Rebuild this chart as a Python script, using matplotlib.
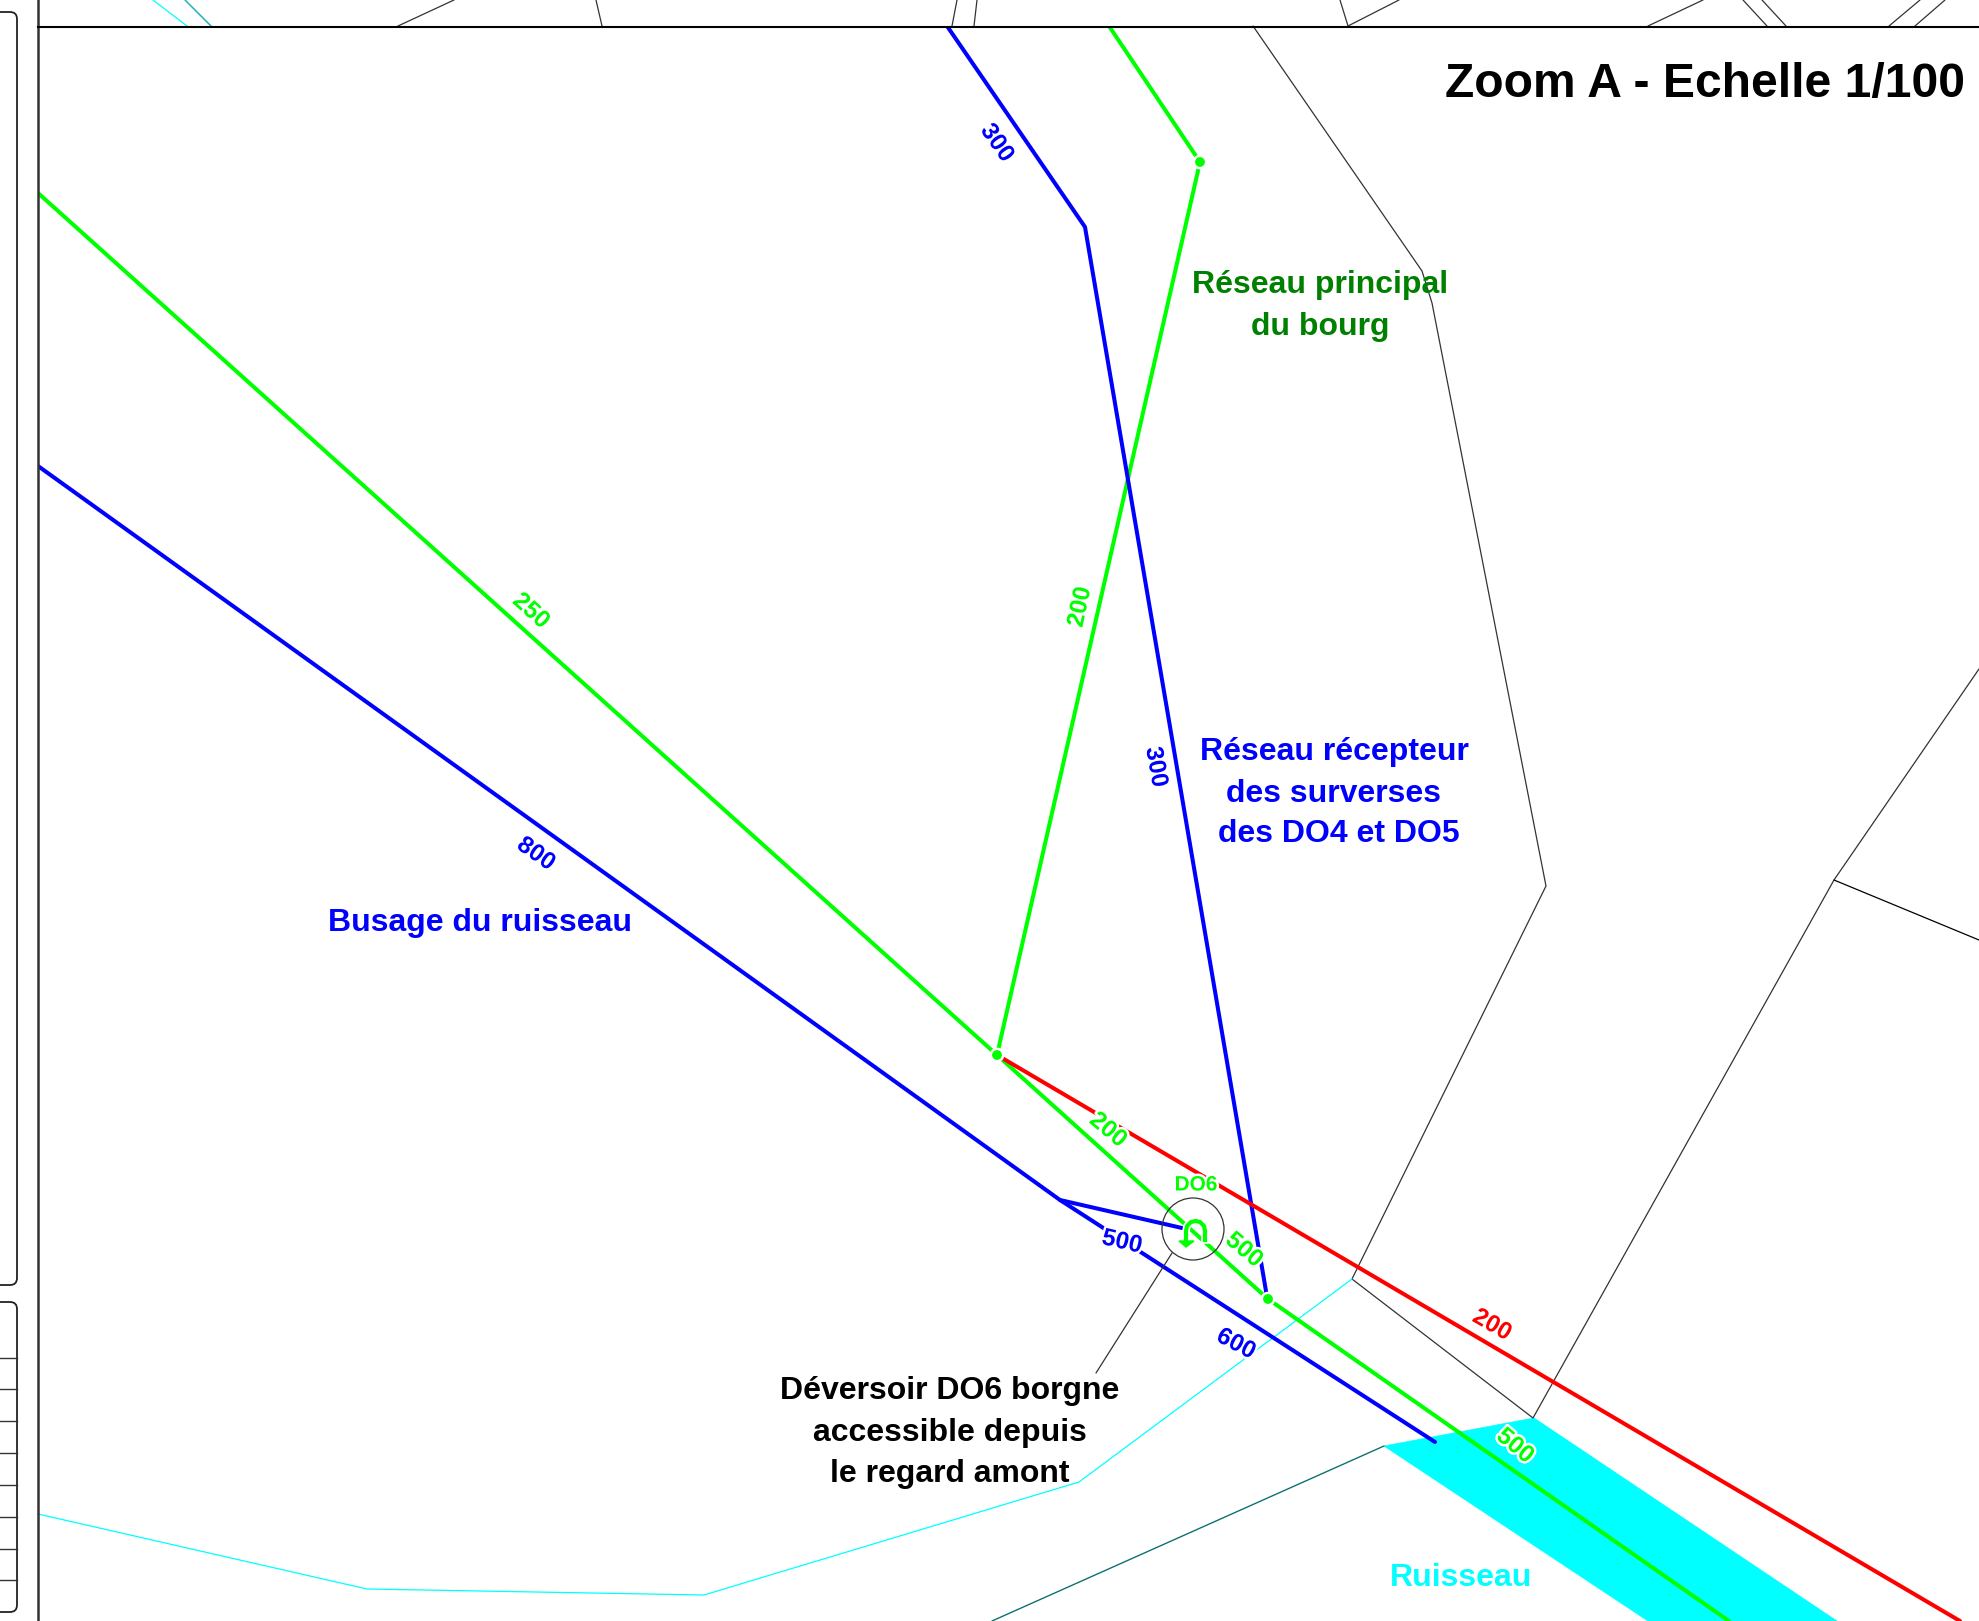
import matplotlib
matplotlib.use("Agg")
import matplotlib.pyplot as plt
import matplotlib.patheffects as pe
from matplotlib.patches import Polygon, Circle, FancyBboxPatch, Rectangle

plt.rcParams['font.family'] = ['Liberation Sans', 'DejaVu Sans']

BLUE = '#0000ff'
GREEN = '#00ff00'
RED = '#ff0000'
CYAN = '#00ffff'
DARKGREEN = '#008000'
GREY = '#333333'

#Pipes, map coordinates (x, y going down)
blue_300 = [(947,26),(1085,227),(1267,1297)]
blue_800 = [(38,466),(1060,1200),(1435,1442)]
blue_branch = [(1060,1200),(1182,1228)]
green_200 = [(1109,26),(1200,162),(997,1055)]
green_250 = [(38,193),(997,1055),(1268,1299),(1729,1621)]
red_200 = [(997,1055),(1960,1621)]

#Parcels
parcel_a = [(1253,26),(1422,271),(1432,303),(1546,886),(1352,1279),(1533,1418),(1834,880),(1979,669)]
parcel_b = [(1834,880),(1979,940)]
top_lines = [[(398,26),(454,0)],[(596,0),(602,26)],[(957,0),(952,26)],[(977,0),(974,26)],
             [(1340,0),(1348,26)],[(1399,0),(1348,26)],[(1703,0),(1648,26)],[(1743,0),(1767,26)],
             [(1762,0),(1786,26)],[(1920,0),(1889,26)],[(1945,0),(1915,26)]]

#Stream
stream_bank = [(1352,1279),(1079,1482),(704,1595),(367,1589),(38,1514)]
stream_top = [[(153,0),(187,26)]]
stream_top_teal = [[(185,0),(211,26)]]
stream_edge = [(1384,1446),(992,1621)]
stream_area = [(1384,1446),(1534,1418),(1837,1621),(1648,1621)]

#Nodes
green_dots = [(1200,162),(997,1055),(1268,1299)]
do6_centre = (1193,1229)
do6_radius = 31
do6_leader = [(1172,1253),(1096,1373)]
do6_uturn = [(1205,1240),(1205,1231),(1204,1226),(1200,1222),(1195.5,1221),(1191,1222),(1187,1226),(1186,1231),(1186,1240)]
do6_head = [(1179,1241),(1194,1241),(1186,1247)]

#Left panel
row_lines = [1358,1389,1421,1453,1485,1517,1549,1580]

#Labels: text, x, y, rotation, colour
pipe_labels = [('300',997,143,-55,BLUE),('300',1156,767,-80,BLUE),('800',536,854,-35,BLUE),
               ('500',1122,1242,-13,BLUE),('600',1236,1344,-28,BLUE),
               ('250',531,611,-42,GREEN),('200',1080,607,78,GREEN),('200',1108,1130,-40,GREEN),
               ('500',1244,1250,-40,GREEN),('500',1515,1446,-40,GREEN),('200',1492,1325,-30,RED)]
notes = [('Réseau principal',1320,285,DARKGREEN),('du bourg',1320,327,DARKGREEN),
         ('Réseau récepteur',1334,752,BLUE),('des surverses',1334,794,BLUE),('des DO4 et DO5',1339,834,BLUE),
         ('Busage du ruisseau',480,923,BLUE),
         ('Déversoir DO6 borgne',950,1391,'black'),('accessible depuis',950,1433,'black'),('le regard amont',950,1474,'black'),
         ('Ruisseau',1461,1578,CYAN)]


def draw(ax, pts, color, lw, z=2, clip=None):
    xs = [p[0] for p in pts]
    ys = [p[1] for p in pts]
    line, = ax.plot(xs, ys, color=color, lw=lw, zorder=z, solid_capstyle='round', solid_joinstyle='miter')
    if clip is not None:
        line.set_clip_path(clip)


fig = plt.figure(figsize=(19.79,16.21), dpi=100)
ax = fig.add_axes([0,0,1,1])
ax.set_xlim(0,1979)
ax.set_ylim(1621,0)
ax.axis('off')

#Pipes stop at the frame
inside = Rectangle((38,27), 1941, 1594, transform=ax.transData)

ax.add_patch(Polygon(stream_area, closed=True, facecolor=CYAN, edgecolor=CYAN, lw=0.5, zorder=1))

draw(ax, parcel_a, GREY, 0.9)
draw(ax, parcel_b, 'black', 0.9)
for l in top_lines:
    draw(ax, l, GREY, 0.9)
draw(ax, stream_bank, CYAN, 0.9)
for l in stream_top:
    draw(ax, l, CYAN, 0.9)
for l in stream_top_teal:
    draw(ax, l, '#20b0c0', 1.1)
draw(ax, stream_edge, '#107070', 1.0)

#Frame
ax.plot([37.5,37.5],[0,1621], color='#333333', lw=1.8, zorder=5)
ax.plot([37.5,1979],[26.5,26.5], color='black', lw=1.5, zorder=5)
ax.add_patch(FancyBboxPatch((-50,12),67,1273, boxstyle='round,pad=0,rounding_size=7', fc='none', ec='#222222', lw=1.3))
ax.add_patch(FancyBboxPatch((-50,1302),67,310, boxstyle='round,pad=0,rounding_size=7', fc='none', ec='#222222', lw=1.3))
for y in row_lines:
    ax.plot([0,17],[y,y], color='#333333', lw=1.0)

draw(ax, green_200, GREEN, 2.9, 3, inside)
draw(ax, green_250, GREEN, 2.9, 3, inside)
draw(ax, blue_300, BLUE, 2.9, 4, inside)
draw(ax, blue_800, BLUE, 2.9, 4, inside)
draw(ax, blue_branch, BLUE, 2.9, 4)
draw(ax, red_200, RED, 2.9, 4)

halo = [pe.withStroke(linewidth=3.5, foreground='white')]
ax.scatter([p[0] for p in green_dots], [p[1] for p in green_dots], s=50, color=GREEN, zorder=6, linewidths=0, path_effects=halo)

#DO6 symbol
ax.add_patch(Circle(do6_centre, do6_radius, fc='none', ec='#333333', lw=0.9, zorder=6))
draw(ax, do6_leader, GREY, 0.9, 6)
ax.plot([p[0] for p in do6_uturn], [p[1] for p in do6_uturn], color=GREEN, lw=3, zorder=7,
        path_effects=[pe.withStroke(linewidth=5.5, foreground='white')])
ax.add_patch(Polygon(do6_head, closed=True, fc=GREEN, ec=GREEN, lw=1, zorder=8))
ax.text(1196,1185,'DO6', color=GREEN, fontsize=15, fontweight='bold', ha='center', va='center', zorder=9, path_effects=halo)

for txt,x,y,r,c in pipe_labels:
    ax.text(x,y,txt, color=c, fontsize=17.5, fontweight='bold', ha='center', va='center', rotation=r,
            rotation_mode='anchor', zorder=9, path_effects=halo)

for txt,x,y,c in notes:
    ax.text(x,y,txt, color=c, fontsize=23, fontweight='bold', ha='center', va='center', zorder=9)

ax.text(1965,85,'Zoom A - Echelle 1/100', color='black', fontsize=34.6, fontweight='bold', ha='right', va='center', zorder=9)

fig.savefig('out.png', dpi=100)
